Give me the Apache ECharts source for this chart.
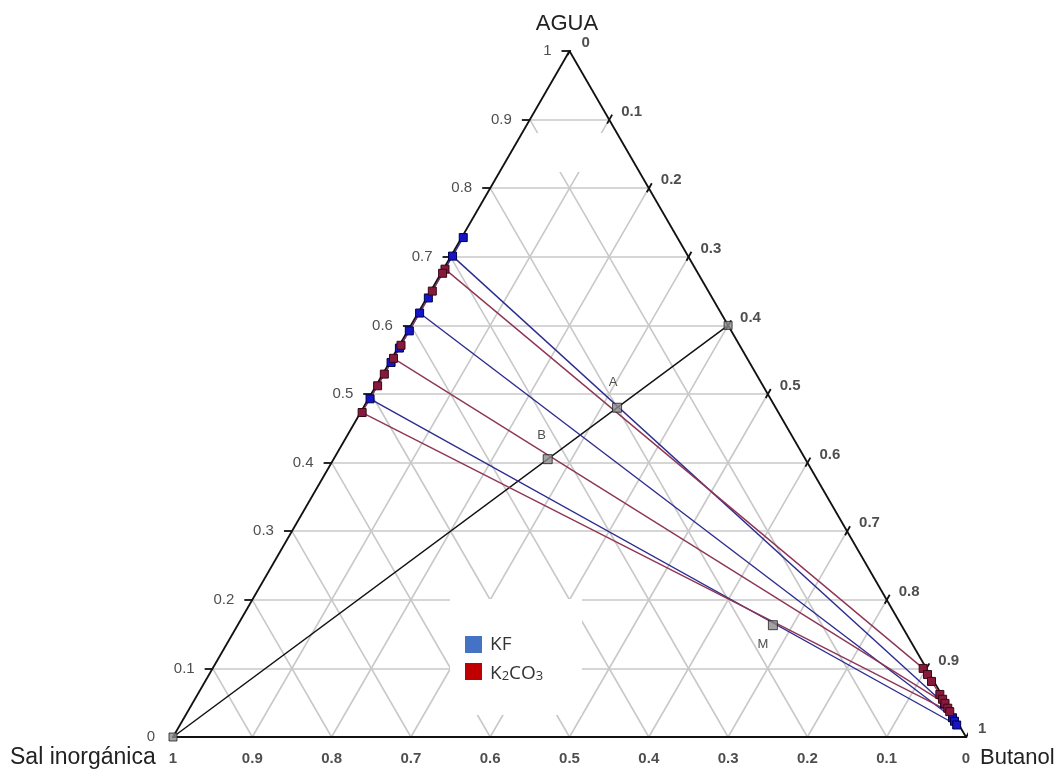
<!DOCTYPE html>
<html>
<head>
<meta charset="utf-8">
<script src="https://cdn.jsdelivr.net/npm/echarts@6/dist/echarts.min.js"></script>
<style>
  html, body { margin: 0; padding: 0; background: #ffffff; }
  #chart { width: 1059px; height: 771px; }
</style>
</head>
<body>
<div id="chart"></div>
<script>
// ---- Ternary diagram: water (top), inorganic salt (bottom left), butanol (bottom right)
const tickValues = [0, 0.1, 0.2, 0.3, 0.4, 0.5, 0.6, 0.7, 0.8, 0.9, 1];
const tickLabels = ['0', '0.1', '0.2', '0.3', '0.4', '0.5', '0.6', '0.7', '0.8', '0.9', '1'];
const gridSteps = [0.1, 0.2, 0.3, 0.4, 0.5, 0.6, 0.7, 0.8, 0.9];
const vertexNames = ['AGUA', 'Sal inorgánica', 'Butanol'];
const saltNames = ['KF', 'K2CO3'];

// Compositions as [water, butanol] mass fractions (salt = 1 - water - butanol)
const kfSaltRich = [[0.728, 0.002], [0.701, 0.002], [0.640, 0.002], [0.618, 0.002], [0.592, 0.002], [0.567, 0.002], [0.546, 0.002], [0.493, 0.002]];
const kfButanolRich = [[0.048, 0.949], [0.028, 0.969], [0.023, 0.974], [0.0175, 0.9795]];
const k2co3SaltRich = [[0.682, 0.002], [0.676, 0.002], [0.650, 0.002], [0.571, 0.002], [0.552, 0.002], [0.529, 0.002], [0.512, 0.002], [0.473, 0.002]];
const k2co3ButanolRich = [[0.100, 0.896], [0.091, 0.906], [0.081, 0.916], [0.062, 0.936], [0.055, 0.943], [0.049, 0.949], [0.042, 0.956], [0.037, 0.961]];

// Tie lines: [index in salt-rich list, index in butanol-rich list]
const kfTies = [[1, 0], [3, 1], [7, 3]];
const k2co3Ties = [[0, 0], [4, 5], [7, 7]];

// Construction points
const saltVertex = [0, 0];
const feedPoint = [0.6, 0.4];
const mixPoints = [[0.48, 0.32], [0.405, 0.27], [0.163, 0.675]];
const mixLabels = ['A', 'B', 'M'];

// ---- geometry helpers
const SQ = Math.sqrt(3) / 2;
const P = (c) => [c[1] + c[0] / 2, c[0] * SQ];          // [water, butanol] -> x, y
const UX = 1 / 793, UY = SQ / 686;                        // one pixel in data units
const shift = (p, dx, dy) => [p[0] + dx * UX, p[1] - dy * UY];
const seg = (a, b) => ({ coords: [a, b] });

// light grid lines for the three families
const gridData = [];
gridSteps.forEach(k => {
  gridData.push(seg(P([k, 0]), P([k, 1 - k])));          // constant water
  gridData.push(seg(P([0, k]), P([1 - k, k])));          // constant butanol
  gridData.push(seg(P([0, 1 - k]), P([1 - k, 0])));      // constant salt
});

// triangle outline and tick marks
const frameData = [
  seg(P([0, 0]), P([0, 1])), seg(P([0, 1]), P([1, 0])), seg(P([1, 0]), P([0, 0]))
];
tickValues.forEach(k => {
  const l = P([k, 0]);
  frameData.push(seg(shift(l, -8, 0), l));
  const r = P([1 - k, k]);
  frameData.push(seg(shift(r, -2, 4), shift(r, 3, -5)));
  const b = P([0, 1 - k]);
  frameData.push(seg(b, shift(b, 2, 5)));
});

const tieData = (saltRich, butRich, ties) =>
  ties.map(t => seg(P(saltRich[t[0]]), P(butRich[t[1]])));

const COLORS = {
  kfMark: '#1515c8', kfBorder: '#00004a', kfLine: '#2c2c8e',
  kcMark: '#861a3c', kcBorder: '#3a0614', kcLine: '#8e3556',
  legendKF: '#4472C4', legendKC: '#C00000'
};

const FONT = 'Liberation Sans, Arial, sans-serif';

function binodal(name, pts, mark, border, line) {
  return {
    type: 'line', name, z: 5, clip: false,
    data: pts.map(P),
    symbol: 'rect', symbolSize: 8,
    itemStyle: { color: mark, borderColor: border, borderWidth: 1 },
    lineStyle: { color: line, width: 1.2 },
    emphasis: { disabled: true }
  };
}

function labelSeries(points, texts, pos, dist, offset, weight) {
  return {
    type: 'scatter', z: 6, silent: true, clip: false,
    symbolSize: 0, itemStyle: { color: 'rgba(0,0,0,0)' },
    data: points,
    label: {
      show: true, position: pos, distance: dist, offset,
      formatter: (p) => texts[p.dataIndex],
      fontFamily: FONT, fontSize: 15, fontWeight: weight, color: '#222222'
    }
  };
}

const chart = echarts.init(document.getElementById('chart'), null, { renderer: 'canvas' });

chart.setOption({
  animation: false,
  backgroundColor: '#ffffff',
  grid: { left: 173, right: 93, top: 51, bottom: 34 },
  xAxis: { type: 'value', min: 0, max: 1, show: false },
  yAxis: { type: 'value', min: 0, max: SQ, show: false },
  series: [
    { type: 'lines', coordinateSystem: 'cartesian2d', z: 1, silent: true,
      lineStyle: { color: '#c8c8c8', width: 1.6, opacity: 1 }, data: gridData },
    { type: 'lines', coordinateSystem: 'cartesian2d', z: 3, silent: true,
      lineStyle: { color: '#111111', width: 1.8, opacity: 1 }, data: frameData },
    { type: 'lines', coordinateSystem: 'cartesian2d', z: 3, silent: true,
      lineStyle: { color: '#111111', width: 1.5, opacity: 1 },
      data: [seg(P(saltVertex), P(feedPoint))] },
    { type: 'lines', coordinateSystem: 'cartesian2d', z: 4, silent: true,
      lineStyle: { color: COLORS.kfLine, width: 1.4, opacity: 1 },
      data: tieData(kfSaltRich, kfButanolRich, kfTies) },
    { type: 'lines', coordinateSystem: 'cartesian2d', z: 4, silent: true,
      lineStyle: { color: COLORS.kcLine, width: 1.4, opacity: 1 },
      data: tieData(k2co3SaltRich, k2co3ButanolRich, k2co3Ties) },
    binodal(saltNames[0], kfSaltRich, COLORS.kfMark, COLORS.kfBorder, COLORS.kfLine),
    binodal(saltNames[0], kfButanolRich, COLORS.kfMark, COLORS.kfBorder, COLORS.kfLine),
    binodal(saltNames[1], k2co3SaltRich, COLORS.kcMark, COLORS.kcBorder, COLORS.kcLine),
    binodal(saltNames[1], k2co3ButanolRich, COLORS.kcMark, COLORS.kcBorder, COLORS.kcLine),
    { type: 'scatter', z: 6, silent: true, clip: false,
      symbol: 'rect', symbolSize: 8,
      itemStyle: { color: '#8c8c8c', borderColor: '#222222', borderWidth: 1 },
      data: [P(saltVertex), P(feedPoint)] },
    { type: 'scatter', z: 6, silent: true, clip: false,
      symbol: 'rect', symbolSize: 9,
      itemStyle: { color: '#8c8c8c', borderColor: '#222222', borderWidth: 1 },
      data: mixPoints.map(P),
      label: {
        show: true, position: 'inside',
        formatter: (p) => mixLabels[p.dataIndex],
        fontFamily: FONT, fontSize: 13, color: '#222222'
      },
      labelLayout: (p) => {
        const offs = [[-4, -25], [-6, -24], [-10, 19]];
        const o = offs[p.dataIndex];
        return { x: p.rect.x + p.rect.width / 2 + o[0], y: p.rect.y + p.rect.height / 2 + o[1], align: 'center', verticalAlign: 'middle' };
      }
    },
    // water scale on the left side
    labelSeries(tickValues.map(w => P([w, 0])), tickLabels, 'left', 18, [0, 0], 'normal'),
    // butanol scale on the right side
    labelSeries(tickValues.map(k => P([1 - k, k])), tickLabels, 'right', 12, [0, -8], 'bold'),
    // salt scale along the base
    labelSeries(tickValues.map(s => P([0, 1 - s])), tickLabels, 'bottom', 14, [0, 0], 'bold')
  ],
  graphic: [
    // blank patches in the grid
    { type: 'rect', z: 2, silent: true, shape: { x: 450, y: 599, width: 132, height: 116 }, style: { fill: '#ffffff' } },
    { type: 'rect', z: 2, silent: true, shape: { x: 520, y: 133, width: 100, height: 39 }, style: { fill: '#ffffff' } },
    // vertex names
    { type: 'text', z: 10, x: 567, y: 24, style: { text: vertexNames[0], font: '22px ' + FONT, fill: '#222222', align: 'center', verticalAlign: 'middle' } },
    { type: 'text', z: 10, x: 10, y: 758, style: { text: vertexNames[1], font: '23px ' + FONT, fill: '#222222', align: 'left', verticalAlign: 'middle' } },
    { type: 'text', z: 10, x: 980, y: 758, style: { text: vertexNames[2], font: '22px ' + FONT, fill: '#222222', align: 'left', verticalAlign: 'middle' } },
    // legend
    { type: 'rect', z: 10, shape: { x: 465, y: 636, width: 17, height: 17 }, style: { fill: COLORS.legendKF } },
    { type: 'rect', z: 10, shape: { x: 465, y: 663, width: 17, height: 17 }, style: { fill: COLORS.legendKC } },
    { type: 'text', z: 10, x: 490, y: 645, style: { text: saltNames[0], font: '19px Open Sans', fill: '#333333', verticalAlign: 'middle' } },
    { type: 'text', z: 10, x: 490, y: 661, style: {
        text: '{a|K}{s|2}{a|CO}{s|3}',
        rich: {
          a: { fontSize: 19, fontFamily: 'Open Sans', fill: '#333333', lineHeight: 22, verticalAlign: 'bottom' },
          s: { fontSize: 13, fontFamily: 'Open Sans', fill: '#333333', lineHeight: 22, verticalAlign: 'bottom' }
        }
      } }
  ]
});
</script>
</body>
</html>
